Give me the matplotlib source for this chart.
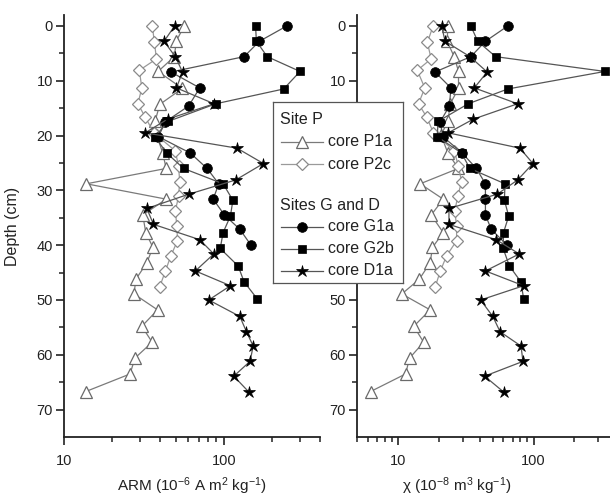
import matplotlib
matplotlib.use("Agg")
import matplotlib.pyplot as plt
from matplotlib.ticker import LogLocator, NullFormatter, FixedLocator, FormatStrFormatter

plt.rcParams['font.family'] = ['Liberation Sans', 'DejaVu Sans']
plt.rcParams['mathtext.fontset'] = 'custom'
plt.rcParams['mathtext.rm'] = 'Liberation Sans'
plt.rcParams['mathtext.it'] = 'Liberation Sans:italic'

# depth of samples (cm) for each core
depth_p1a = [0, 2.7, 5.6, 8.3, 11.4, 14.3, 17.3, 19.9, 23.1, 26.0, 28.8, 31.6,
             34.5, 37.7, 40.4, 43.2, 46.2, 48.9, 51.8, 54.8, 57.7, 60.6, 63.5, 66.7]
depth_p2c = [0, 3.0, 6.0, 8.1, 11.3, 14.2, 16.6, 19.5, 22.8, 25.6, 28.4, 31.1,
             33.8, 36.5, 39.2, 41.9, 44.8, 47.7]
depth_g1a = [0, 2.8, 5.6, 8.4, 11.3, 14.6, 17.5, 20.2, 23.2, 26.0, 28.8, 31.6,
             34.5, 37.1, 40.0]
depth_g2b = [0, 2.8, 5.6, 8.3, 11.5, 14.2, 17.4, 20.2, 23.2, 26.0, 28.8, 31.8,
             34.7, 37.7, 40.6, 43.8, 46.7, 49.8]
depth_d1a = [0, 2.8, 5.6, 8.4, 11.3, 14.2, 17.0, 19.5, 22.3, 25.1, 28.1, 30.7,
             33.3, 36.2, 39.0, 41.6, 44.7, 47.4, 50.0, 53.0, 55.8, 58.4, 61.2,
             63.9, 66.8]

# ARM (10^-6 A m2 kg-1)
arm_p1a = [56.6, 50.5, 49.0, 38.8, 55.0, 39.8, 37.2, 38.0, 41.4, 43.6, 13.8, 43.6,
           31.1, 32.5, 36.0, 33.0, 28.2, 27.4, 38.5, 30.7, 35.6, 27.8, 25.9, 13.7]
arm_p2c = [35.7, 36.8, 37.9, 29.6, 30.7, 29.0, 32.2, 36.5, 49.7, 52.1, 53.0, 52.1,
           49.7, 50.9, 51.3, 46.7, 43.0, 39.6]
arm_g1a = [248, 167, 134, 46.7, 70.7, 60.3, 43.0, 39.0, 61.8, 78.6, 93.0, 85.8,
           101, 126, 148]
arm_g2b = [158, 160, 187, 300, 237, 89.0, 45.0, 37.0, 44.0, 56.0, 99.0, 114,
           110, 99.0, 95.0, 123, 134, 162]
arm_d1a = [49.2, 42.3, 49.7, 55.2, 50.5, 87.0, 44.5, 32.2, 121, 177, 118.7, 60.3,
           33.0, 36.3, 70.7, 86.6, 66.4, 110, 80.5, 126, 138.7, 152.7, 146,
           115.5, 143.6]

# magnetic susceptibility chi (10^-8 m3 kg-1)
chi_p1a = [23.5, 23.0, 26.0, 28.0, 28.0, 24.2, 23.5, 20.8, 23.3, 27.9, 14.6, 21.6,
           17.6, 21.6, 18.0, 17.3, 14.4, 10.7, 17.3, 13.1, 15.5, 12.2, 11.4, 6.3]
chi_p2c = [18.2, 16.5, 17.6, 13.9, 15.8, 14.2, 16.3, 18.3, 26.1, 27.9, 29.5, 27.6,
           26.3, 27.1, 27.1, 22.9, 20.5, 18.8]
chi_g1a = [64.6, 44.2, 34.5, 18.8, 24.6, 24.0, 20.5, 21.5, 29.8, 37.9, 44.2, 44.2,
           44.2, 48.8, 63.8]
chi_g2b = [34.5, 38.8, 52.5, 336, 64.6, 33.0, 19.8, 19.5, 29.5, 33.9, 61.6, 61.0,
           65.6, 60.1, 59.7, 66.4, 80.8, 84.5]
chi_d1a = [21.0, 22.3, 34.0, 45.5, 36.6, 76.3, 36.0, 23.5, 79.3, 99.0, 76.3, 54.0,
           23.8, 23.8, 53.1, 78.5, 44.2, 84.5, 40.7, 50.1, 56.7, 80.8, 83.6, 43.6,
           60.3]

cores = ["core P1a", "core P2c", "core G1a", "core G2b", "core D1a"]
depths = [depth_p1a, depth_p2c, depth_g1a, depth_g2b, depth_d1a]
arm = [arm_p1a, arm_p2c, arm_g1a, arm_g2b, arm_d1a]
chi = [chi_p1a, chi_p2c, chi_g1a, chi_g2b, chi_d1a]

# style per core
styles = [
    dict(marker='^', ms=8, mfc='white', mec='#6a6a6a', color='#7a7a7a', mew=0.9),
    dict(marker='D', ms=6.5, mfc='white', mec='#8a8a8a', color='#9a9a9a', mew=0.9),
    dict(marker='o', ms=7, mfc='black', mec='black', color='#555555', mew=0.5),
    dict(marker='s', ms=6, mfc='black', mec='black', color='#555555', mew=0.5),
    dict(marker='*', ms=9, mfc='black', mec='black', color='#555555', mew=0.5),
]

fig = plt.figure(figsize=(6.1, 5.0), dpi=100)
ax1 = fig.add_axes([64 / 610, 63 / 500, 256 / 610, 422 / 500])
ax2 = fig.add_axes([357 / 610, 63 / 500, 253 / 610, 422 / 500])

for ax, vals in ((ax1, arm), (ax2, chi)):
    for d, v, st in zip(depths, vals, styles):
        ax.plot(v, d, lw=0.9, clip_on=False, **st)

for ax in (ax1, ax2):
    ax.set_xscale('log')
    ax.set_ylim(75, -2)
    for s in ('top', 'right'):
        ax.spines[s].set_visible(False)
    for s in ('left', 'bottom'):
        ax.spines[s].set_linewidth(1.3)
        ax.spines[s].set_color('#222222')
    ax.yaxis.set_major_locator(FixedLocator(range(0, 71, 10)))
    ax.yaxis.set_minor_locator(FixedLocator(range(5, 71, 10)))
    ax.xaxis.set_major_locator(LogLocator(base=10, numticks=10))
    ax.xaxis.set_minor_locator(LogLocator(base=10, subs=range(2, 10), numticks=10))
    ax.xaxis.set_major_formatter(FormatStrFormatter('%d'))
    ax.xaxis.set_minor_formatter(NullFormatter())
    ax.tick_params(which='major', length=6, width=1.2, color='#222222',
                   labelsize=10.5, labelcolor='#222222', pad=6)
    ax.tick_params(which='minor', length=3.5, width=1.1, color='#222222')
    ax.tick_params(axis='y', which='major', pad=2)

ax1.set_xlim(10, 400)
ax2.set_xlim(5, 366)

# y tick labels of the right panel that sit behind the legend box
fig.canvas.draw()
for lab, val in zip(ax2.yaxis.get_ticklabels(), range(0, 71, 10)):
    if val in (20, 30, 40):
        lab.set_visible(False)

ax1.set_ylabel('Depth (cm)', fontsize=11.5, color='#222222', labelpad=12)
ax1.set_xlabel('ARM (10$^{-6}$ A m$^{2}$ kg$^{-1}$)', fontsize=11,
               color='#222222')
ax2.set_xlabel('χ (10$^{-8}$ m$^{3}$ kg$^{-1}$)', fontsize=11,
               color='#222222')
ax1.xaxis.set_label_coords(0.5, -0.092)
ax2.xaxis.set_label_coords(0.396, -0.092)

# legend box drawn as a small axes in pixel units
lax = fig.add_axes([273 / 610, 1 - 283 / 500, 130 / 610, 181 / 500])
lax.set_xlim(0, 130)
lax.set_ylim(181, 0)
lax.set_xticks([])
lax.set_yticks([])
for s in lax.spines.values():
    s.set_linewidth(0.9)
    s.set_color('#555555')
lax.set_facecolor('white')

headers = [("Site P", 18), ("Sites G and D", 103)]
rows = [39.7, 62.3, 124.7, 147, 168.7]
for text, y in headers:
    lax.text(7, y, text, fontsize=11.5, va='center', ha='left', color='#222222')
for name, y, st in zip(cores, rows, styles):
    lax.plot([8, 50], [y, y], lw=0.9, color=st['color'])
    lax.plot([29], [y], ls='none', marker=st['marker'], ms=st['ms'],
             mfc=st['mfc'], mec=st['mec'], mew=st['mew'])
    lax.text(55, y, name, fontsize=11.5, va='center', ha='left', color='#222222')

fig.savefig('out.png', dpi=100)
